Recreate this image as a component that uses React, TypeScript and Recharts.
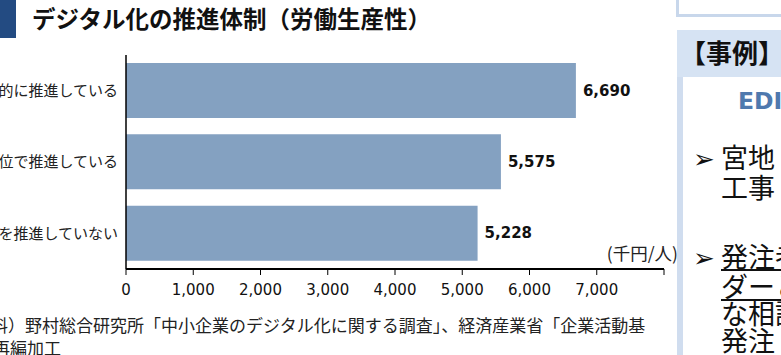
import { BarChart, Bar, XAxis, YAxis, LabelList } from 'recharts'

const categories = ['全社的に推進している', '部門単位で推進している', 'デジタル化を推進していない']
const productivity = [6690, 5575, 5228]
const xTicks = [0, 1000, 2000, 3000, 4000, 5000, 6000, 7000, 8000]
const xTickLabels = ['0', '1,000', '2,000', '3,000', '4,000', '5,000', '6,000', '7,000', '']

const chartData = categories.map((name, i) => ({ name, value: productivity[i] }))

const jp = '"Noto Sans CJK JP", "Noto Sans", sans-serif'
const latin = '"DejaVu Sans", Verdana, sans-serif'

export default function App() {
  return (
    <div
      style={{
        position: 'absolute',
        top: 0,
        left: 0,
        width: 781,
        height: 355,
        overflow: 'hidden',
        background: '#fff',
        fontFamily: jp,
      }}
    >
      {/* title */}
      <div style={{ position: 'absolute', left: 0, top: 0, width: 16, height: 38, background: '#234b82' }} />
      <div
        style={{
          position: 'absolute',
          left: 32,
          top: 3,
          fontSize: 23.5,
          lineHeight: '30px',
          fontWeight: 700,
          color: '#111',
          whiteSpace: 'nowrap',
        }}
      >
        デジタル化の推進体制（労働生産性）
      </div>

      {/* chart */}
      <div style={{ position: 'absolute', left: -80, top: 0 }}>
        <BarChart
          width={760}
          height={320}
          layout="vertical"
          data={chartData}
          margin={{ top: 55, right: 16, bottom: 0, left: 0 }}
        >
          <XAxis
            type="number"
            domain={[0, 8000]}
            ticks={xTicks}
            interval={0}
            tickFormatter={(v: number) => xTickLabels[xTicks.indexOf(v)] ?? ''}
            axisLine={{ stroke: '#000', strokeWidth: 2 }}
            tickLine={{ stroke: '#000', strokeWidth: 1 }}
            tickSize={6}
            tickMargin={9}
            height={51}
            tick={{ fontSize: 15, fill: '#111', fontFamily: latin }}
          />
          <YAxis
            type="category"
            dataKey="name"
            width={206}
            axisLine={{ stroke: '#000', strokeWidth: 1.5 }}
            tickLine={false}
            tick={{ fontSize: 15, fill: '#222', fontFamily: jp }}
          />
          <Bar dataKey="value" fill="#84a1c1" barSize={55} isAnimationActive={false}>
            <LabelList
              dataKey="value"
              position="right"
              offset={7}
              formatter={(v: number) => v.toLocaleString('en-US')}
              style={{ fontSize: 15, fontWeight: 700, fill: '#111', fontFamily: latin }}
            />
          </Bar>
        </BarChart>
      </div>

      {/* unit */}
      <div
        style={{
          position: 'absolute',
          right: 781 - 678,
          top: 242,
          fontSize: 17.5,
          lineHeight: '22px',
          color: '#222',
          whiteSpace: 'nowrap',
        }}
      >
        (千円/人)
      </div>

      {/* source */}
      <div
        style={{
          position: 'absolute',
          left: -43,
          top: 313,
          fontSize: 17,
          lineHeight: '23px',
          color: '#222',
          whiteSpace: 'nowrap',
        }}
      >
        （資料）野村総合研究所「中小企業のデジタル化に関する調査」、経済産業省「企業活動基
      </div>
      <div
        style={{
          position: 'absolute',
          left: -7,
          top: 336,
          fontSize: 17,
          lineHeight: '23px',
          color: '#222',
          whiteSpace: 'nowrap',
        }}
      >
        再編加工
      </div>

      {/* right panel */}
      <div
        style={{
          position: 'absolute',
          left: 676,
          top: -4,
          width: 120,
          height: 18,
          borderLeft: '3px solid #c8d7eb',
          borderBottom: '3px solid #c8d7eb',
          background: '#fff',
        }}
      />
      <div
        style={{
          position: 'absolute',
          left: 677,
          top: 30,
          width: 110,
          height: 47,
          background: '#d6e3f3',
        }}
      />
      <div
        style={{
          position: 'absolute',
          left: 680,
          top: 36,
          fontSize: 26,
          lineHeight: '32px',
          fontWeight: 700,
          color: '#111',
          whiteSpace: 'nowrap',
        }}
      >
        【事例】
      </div>
      <div
        style={{
          position: 'absolute',
          left: 677,
          top: 77,
          width: 110,
          height: 290,
          background: '#fff',
          borderLeft: '6px solid #d0ddef',
        }}
      />
      <div
        style={{
          position: 'absolute',
          left: 738,
          top: 86,
          fontSize: 23.5,
          lineHeight: '30px',
          fontWeight: 700,
          color: '#4f79ae',
          fontFamily: latin,
          whiteSpace: 'nowrap',
        }}
      >
        EDI
      </div>
      <div
        style={{
          position: 'absolute',
          left: 693,
          top: 143,
          fontSize: 27,
          lineHeight: '27px',
          color: '#111',
          whiteSpace: 'nowrap',
        }}
      >
        <div>
          <span style={{ fontSize: 26, display: 'inline-block', width: 28, fontFamily: latin }}>➢</span>宮地
        </div>
        <div style={{ paddingLeft: 28 }}>工事</div>
      </div>
      <div
        style={{
          position: 'absolute',
          left: 693,
          top: 242,
          fontSize: 27,
          lineHeight: '27px',
          color: '#111',
          whiteSpace: 'nowrap',
        }}
      >
        <div>
          <span style={{ fontSize: 26, display: 'inline-block', width: 28, fontFamily: latin }}>➢</span>
          <span style={{ textDecoration: 'underline' }}>発注者</span>
        </div>
        <div style={{ paddingLeft: 28, textDecoration: 'underline' }}>ダーとの</div>
        <div style={{ paddingLeft: 28 }}>な相談</div>
        <div style={{ paddingLeft: 28 }}>発注</div>
      </div>
    </div>
  )
}
